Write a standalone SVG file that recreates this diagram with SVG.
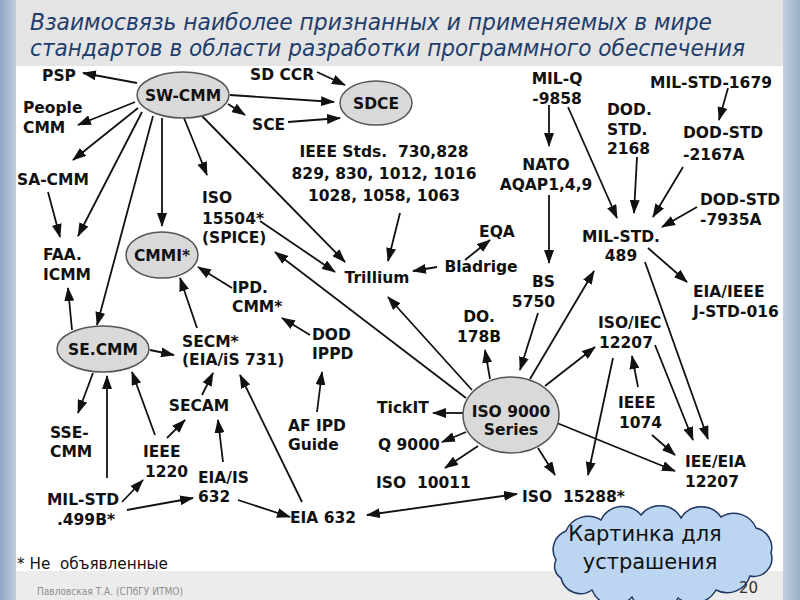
<svg xmlns="http://www.w3.org/2000/svg" width="800" height="600" viewBox="0 0 800 600">
<defs>
<linearGradient id="gl" x1="0" y1="0" x2="1" y2="0"><stop offset="0" stop-color="#8ea6c2"/><stop offset="1" stop-color="#c3cfdc"/></linearGradient>
<linearGradient id="gr" x1="0" y1="0" x2="1" y2="0"><stop offset="0" stop-color="#c4d0dd"/><stop offset="1" stop-color="#9bb0c9"/></linearGradient>
<linearGradient id="gt" x1="0" y1="0" x2="0" y2="1"><stop offset="0" stop-color="#e4e4e4"/><stop offset="1" stop-color="#ececec"/></linearGradient>
<marker id="ah" viewBox="0 0 14 10" refX="13" refY="5" markerWidth="14" markerHeight="10" markerUnits="userSpaceOnUse" orient="auto"><path d="M0,0 L14,5 L0,10 z" fill="#111"/></marker>
<marker id="ahs" viewBox="0 0 14 10" refX="13" refY="5" markerWidth="14" markerHeight="10" markerUnits="userSpaceOnUse" orient="auto-start-reverse"><path d="M0,0 L14,5 L0,10 z" fill="#111"/></marker>
</defs>
<style>
.t{font-family:"DejaVu Sans","Liberation Sans",sans-serif;font-weight:bold;font-size:15.5px;fill:#111;white-space:pre}
.m{text-anchor:middle}
.el{fill:#d9d9d9;stroke:#555;stroke-width:1.5}
.c line{stroke:#111;stroke-width:1.8;marker-end:url(#ah)}
.title{font-family:"DejaVu Sans","Noto Sans",sans-serif;font-style:italic;font-size:23px;fill:#1f3d6b}
.n{font-family:"DejaVu Sans","Noto Sans",sans-serif;fill:#111}
</style>
<rect x="0" y="0" width="800" height="600" fill="url(#gt)"/>
<rect x="0" y="0" width="16" height="600" fill="url(#gl)"/>
<rect x="783" y="0" width="17" height="600" fill="url(#gr)"/>
<rect x="16" y="66" width="767" height="505" fill="#fff"/>
<text class="title" x="30" y="30" textLength="682" lengthAdjust="spacingAndGlyphs">Взаимосвязь наиболее признанных и применяемых в мире</text>
<text class="title" x="30" y="56" textLength="715" lengthAdjust="spacingAndGlyphs">стандартов в области разработки программного обеспечения</text>

<g id="connectors" class="c">
<line x1="137" y1="83" x2="83" y2="73"/>
<line x1="135" y1="102" x2="78" y2="125"/>
<line x1="138" y1="108" x2="73" y2="160"/>
<line x1="48" y1="192" x2="60" y2="237"/>
<line x1="142" y1="112" x2="78" y2="236"/>
<line x1="153" y1="116" x2="97" y2="325"/>
<line x1="162" y1="118" x2="162" y2="226"/>
<line x1="184" y1="118" x2="207" y2="175"/>
<line x1="202" y1="116" x2="345" y2="262"/>
<line x1="260" y1="221" x2="335" y2="272"/>
<line x1="230" y1="95" x2="334" y2="102"/>
<line x1="228" y1="104" x2="245" y2="115"/>
<line x1="317" y1="72" x2="345" y2="85"/>
<line x1="288" y1="122" x2="340" y2="118"/>
<line x1="400" y1="213" x2="388" y2="261"/>
<line x1="437" y1="267" x2="413" y2="271"/>
<line x1="465" y1="260" x2="490" y2="240"/>
<line x1="466" y1="398" x2="275" y2="252"/>
<line x1="472" y1="390" x2="388" y2="297"/>
<line x1="490" y1="379" x2="485" y2="350"/>
<line x1="538" y1="313" x2="520" y2="370"/>
<line x1="530" y1="379" x2="594" y2="271"/>
<line x1="545" y1="386" x2="595" y2="347"/>
<line x1="463" y1="413" x2="433" y2="413"/>
<line x1="466" y1="432" x2="442" y2="442"/>
<line x1="478" y1="446" x2="445" y2="468"/>
<line x1="538" y1="448" x2="555" y2="475"/>
<line x1="613" y1="358" x2="588" y2="475"/>
<line x1="557" y1="423" x2="675" y2="471"/>
<line x1="638" y1="387" x2="632" y2="356"/>
<line x1="652" y1="435" x2="675" y2="455"/>
<line x1="655" y1="345" x2="693" y2="440"/>
<line x1="645" y1="262" x2="708" y2="439"/>
<line x1="648" y1="248" x2="687" y2="282"/>
<line x1="549" y1="105" x2="549" y2="146"/>
<line x1="568" y1="107" x2="617" y2="218"/>
<line x1="637" y1="157" x2="634" y2="213"/>
<line x1="683" y1="167" x2="653" y2="217"/>
<line x1="697" y1="207" x2="662" y2="227"/>
<line x1="728" y1="88" x2="719" y2="120"/>
<line x1="549" y1="195" x2="549" y2="263"/>
<line x1="72" y1="330" x2="68" y2="288"/>
<line x1="150" y1="350" x2="174" y2="355"/>
<line x1="197" y1="328" x2="180" y2="278"/>
<line x1="232" y1="288" x2="198" y2="267"/>
<line x1="310" y1="335" x2="282" y2="318"/>
<line x1="317" y1="412" x2="322" y2="372"/>
<line x1="93" y1="373" x2="78" y2="413"/>
<line x1="107" y1="478" x2="107" y2="376"/>
<line x1="155" y1="435" x2="132" y2="372"/>
<line x1="167" y1="438" x2="185" y2="420"/>
<line x1="202" y1="395" x2="213" y2="373"/>
<line x1="223" y1="462" x2="218" y2="420"/>
<line x1="302" y1="502" x2="240" y2="375"/>
<line x1="122" y1="502" x2="143" y2="480"/>
<line x1="127" y1="510" x2="193" y2="498"/>
<line x1="238" y1="500" x2="290" y2="517"/>
<line x1="367" y1="515" x2="517" y2="494" marker-start="url(#ahs)"/>
</g>

<g id="sw-cmm"><ellipse class="el" cx="183" cy="95" rx="46" ry="23"/><text class="t m" x="183" y="101">SW-CMM</text></g>
<g id="sdce"><ellipse class="el" cx="376" cy="103" rx="36" ry="22"/><text class="t m" x="376" y="109">SDCE</text></g>
<g id="cmmi"><ellipse class="el" cx="162" cy="255" rx="36" ry="23"/><text class="t m" x="162" y="261">CMMI*</text></g>
<g id="se-cmm"><ellipse class="el" cx="103" cy="349" rx="46" ry="23"/><text class="t m" x="103" y="355">SE.CMM</text></g>
<g id="iso9000"><ellipse class="el" cx="511" cy="415" rx="48" ry="38"/><text class="t m" x="511" y="417">ISO 9000</text><text class="t m" x="511" y="435">Series</text></g>

<g id="psp"><text class="t m" x="59" y="81">PSP</text></g>
<g id="people-cmm"><text class="t" x="23" y="113">People</text><text class="t" x="23" y="133">CMM</text></g>
<g id="sa-cmm"><text class="t" x="17" y="185">SA-CMM</text></g>
<g id="faa-icmm"><text class="t" x="43" y="260">FAA.</text><text class="t" x="43" y="280">ICMM</text></g>
<g id="sd-ccr"><text class="t" x="250" y="80">SD CCR</text></g>
<g id="sce"><text class="t" x="252" y="130">SCE</text></g>
<g id="ieee-stds"><text class="t m" x="384" y="157">IEEE Stds.  730,828</text><text class="t m" x="384" y="179">829, 830, 1012, 1016</text><text class="t m" x="384" y="201">1028, 1058, 1063</text></g>
<g id="iso15504"><text class="t" x="202" y="203">ISO</text><text class="t" x="202" y="224">15504*</text><text class="t" x="202" y="243">(SPICE)</text></g>
<g id="trillium"><text class="t m" x="377" y="283">Trillium</text></g>
<g id="eqa"><text class="t m" x="497" y="237">EQA</text></g>
<g id="bladrige"><text class="t m" x="481" y="272">Bladrige</text></g>
<g id="ipd-cmm"><text class="t" x="232" y="293">IPD.</text><text class="t" x="232" y="312">CMM*</text></g>
<g id="dod-ippd"><text class="t" x="312" y="340">DOD</text><text class="t" x="312" y="359">IPPD</text></g>
<g id="secm"><text class="t" x="182" y="347">SECM*</text><text class="t" x="182" y="365">(EIA/iS 731)</text></g>
<g id="secam"><text class="t m" x="199" y="411">SECAM</text></g>
<g id="af-ipd"><text class="t" x="288" y="431">AF IPD</text><text class="t" x="288" y="450">Guide</text></g>
<g id="tickit"><text class="t" x="377" y="413">TickIT</text></g>
<g id="q9000"><text class="t" x="378" y="450">Q 9000</text></g>
<g id="iso10011"><text class="t" x="376" y="488">ISO  10011</text></g>
<g id="iso15288"><text class="t" x="522" y="502">ISO  15288*</text></g>
<g id="do178b"><text class="t m" x="479" y="322">DO.</text><text class="t m" x="479" y="342">178B</text></g>
<g id="bs5750"><text class="t" x="555" y="287" text-anchor="end">BS</text><text class="t" x="555" y="307" text-anchor="end">5750</text></g>
<g id="iso-iec-12207"><text class="t" x="598" y="328">ISO/IEC</text><text class="t" x="599" y="348">12207</text></g>
<g id="ieee1074"><text class="t" x="618" y="408">IEEE</text><text class="t" x="619" y="428">1074</text></g>
<g id="iee-eia-12207"><text class="t" x="685" y="467">IEE/EIA</text><text class="t" x="685" y="487">12207</text></g>
<g id="eia-ieee-j016"><text class="t" x="693" y="297">EIA/IEEE</text><text class="t" x="693" y="317">J-STD-016</text></g>
<g id="mil-std-489"><text class="t m" x="621" y="242">MIL-STD.</text><text class="t m" x="621" y="261">489</text></g>
<g id="mil-q-9858"><text class="t m" x="557" y="84">MIL-Q</text><text class="t m" x="557" y="104">-9858</text></g>
<g id="mil-std-1679"><text class="t" x="650" y="88">MIL-STD-1679</text></g>
<g id="dod-std-2168"><text class="t" x="607" y="115">DOD.</text><text class="t" x="607" y="135">STD.</text><text class="t" x="607" y="154">2168</text></g>
<g id="dod-std-2167a"><text class="t" x="683" y="138">DOD-STD</text><text class="t" x="683" y="160">-2167A</text></g>
<g id="nato-aqap"><text class="t m" x="546" y="170">NATO</text><text class="t m" x="546" y="190">AQAP1,4,9</text></g>
<g id="dod-std-7935a"><text class="t" x="700" y="205">DOD-STD</text><text class="t" x="700" y="225">-7935A</text></g>
<g id="sse-cmm"><text class="t" x="50" y="438">SSE-</text><text class="t" x="50" y="457">CMM</text></g>
<g id="ieee1220"><text class="t" x="143" y="457">IEEE</text><text class="t" x="145" y="477">1220</text></g>
<g id="eia-is-632"><text class="t" x="198" y="483">EIA/IS</text><text class="t" x="198" y="502">632</text></g>
<g id="mil-std-499b"><text class="t m" x="83" y="505">MIL-STD</text><text class="t m" x="86" y="525">.499B*</text></g>
<g id="eia632"><text class="t" x="290" y="523">EIA 632</text></g>

<text class="n" x="17" y="569" xml:space="preserve" textLength="151" lengthAdjust="spacingAndGlyphs" style="font-size:16px">* Не  объявленные</text>

<text class="n" x="37" y="595" textLength="146" lengthAdjust="spacingAndGlyphs" style="font-size:11px;fill:#8c8c8c">Павловская Т.А. (СПбГУ ИТМО)</text>

<g id="cloud">
<path d="M556,560 A20,20 0 0 1 566,531 A24,24 0 0 1 601,520 A24,24 0 0 1 641,515 A24,24 0 0 1 681,518 A24,24 0 0 1 721,517 A24,24 0 0 1 756,528 A20,20 0 0 1 771,553 A18,18 0 0 1 750,576 A24,24 0 0 1 716,590 A26,26 0 0 1 678,598 A26,26 0 0 1 632,597 A24,24 0 0 1 592,590 A20,20 0 0 1 561,578 A14,14 0 0 1 556,560 Z" fill="#bcd6f2" stroke="#1f3864" stroke-width="1.5"/>
<text class="n" x="645" y="541" text-anchor="middle" style="font-size:21px">Картинка для</text>
<text class="n" x="650" y="569" text-anchor="middle" style="font-size:21px">устрашения</text>
</g>
<text class="n" x="739" y="593" style="font-size:15px;fill:#333">20</text>
</svg>
